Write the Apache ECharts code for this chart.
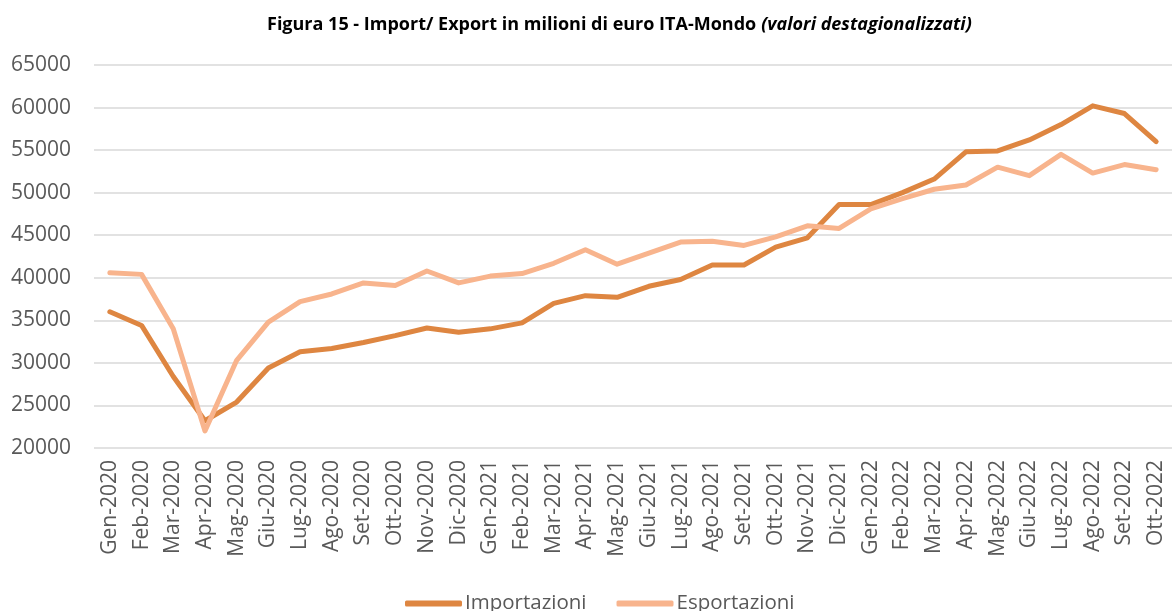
<!DOCTYPE html>
<html>
<head>
<meta charset="utf-8">
<script src="https://cdn.jsdelivr.net/npm/echarts@6/dist/echarts.min.js"></script>
<style>
html,body{margin:0;padding:0;background:#fff;}
#chart{width:1172px;height:611px;}
</style>
</head>
<body>
<div id="chart"></div>
<script>
const categories = ['Gen-2020','Feb-2020','Mar-2020','Apr-2020','Mag-2020','Giu-2020','Lug-2020','Ago-2020','Set-2020','Ott-2020','Nov-2020','Dic-2020',
  'Gen-2021','Feb-2021','Mar-2021','Apr-2021','Mag-2021','Giu-2021','Lug-2021','Ago-2021','Set-2021','Ott-2021','Nov-2021','Dic-2021',
  'Gen-2022','Feb-2022','Mar-2022','Apr-2022','Mag-2022','Giu-2022','Lug-2022','Ago-2022','Set-2022','Ott-2022'];
const importazioni = [36000,34400,28400,23200,25400,29400,31300,31700,32400,33200,34100,33600,
  34000,34700,37000,37900,37700,39000,39800,41500,41500,43600,44700,48600,
  48600,50000,51600,54800,54900,56200,58000,60200,59300,56000];
const esportazioni = [40600,40400,34000,22000,30300,34800,37200,38100,39400,39100,40800,39400,
  40200,40500,41700,43300,41600,42900,44200,44300,43800,44800,46100,45800,
  48100,49300,50400,50900,53000,52000,54500,52300,53300,52700];
const seriesNames = ['Importazioni','Esportazioni'];
const colors = ['#DE8641','#F8B48D'];

const chart = echarts.init(document.getElementById('chart'));
chart.setOption({
  animation:false,
  backgroundColor:'#ffffff',
  title:{
    text:'{b|Figura 15 - Import/ Export in milioni di euro ITA-Mondo} {i|(valori destagionalizzati)}',
    left:262, top:11,
    textStyle:{
      rich:{
        b:{fontFamily:'Open Sans', fontWeight:'bold', fontSize:18, color:'#000'},
        i:{fontFamily:'Open Sans', fontStyle:'italic', fontSize:18, color:'#000'}
      }
    }
  },
  legend:{
    data:seriesNames,
    top:588, left:400,
    icon:'roundRect', itemWidth:57, itemHeight:6, itemGap:30,
    textStyle:{fontFamily:'Open Sans', fontSize:20.5, color:'#595959', padding:[0,0,0,-2]}
  },
  grid:{left:94, right:0, top:65, bottom:163, containLabel:false},
  xAxis:{
    type:'category', data:categories, boundaryGap:true,
    axisLine:{show:false}, axisTick:{show:false},
    axisLabel:{rotate:90, fontFamily:'Open Sans', fontSize:21, color:'#595959', margin:12, interval:0}
  },
  yAxis:{
    type:'value', min:20000, max:65000, interval:5000,
    axisLine:{show:false}, axisTick:{show:false},
    axisLabel:{fontFamily:'Open Sans', fontSize:21, color:'#595959', margin:23, formatter:function(v){return String(v);}},
    splitLine:{lineStyle:{color:'#d9d9d9', width:1.5}}
  },
  series:[
    {name:seriesNames[0], type:'line', data:importazioni, symbol:'none', smooth:false,
     lineStyle:{color:colors[0], width:5, cap:'round', join:'round'}, itemStyle:{color:colors[0]}},
    {name:seriesNames[1], type:'line', data:esportazioni, symbol:'none', smooth:false,
     lineStyle:{color:colors[1], width:5, cap:'round', join:'round'}, itemStyle:{color:colors[1]}}
  ]
});
</script>
</body>
</html>
